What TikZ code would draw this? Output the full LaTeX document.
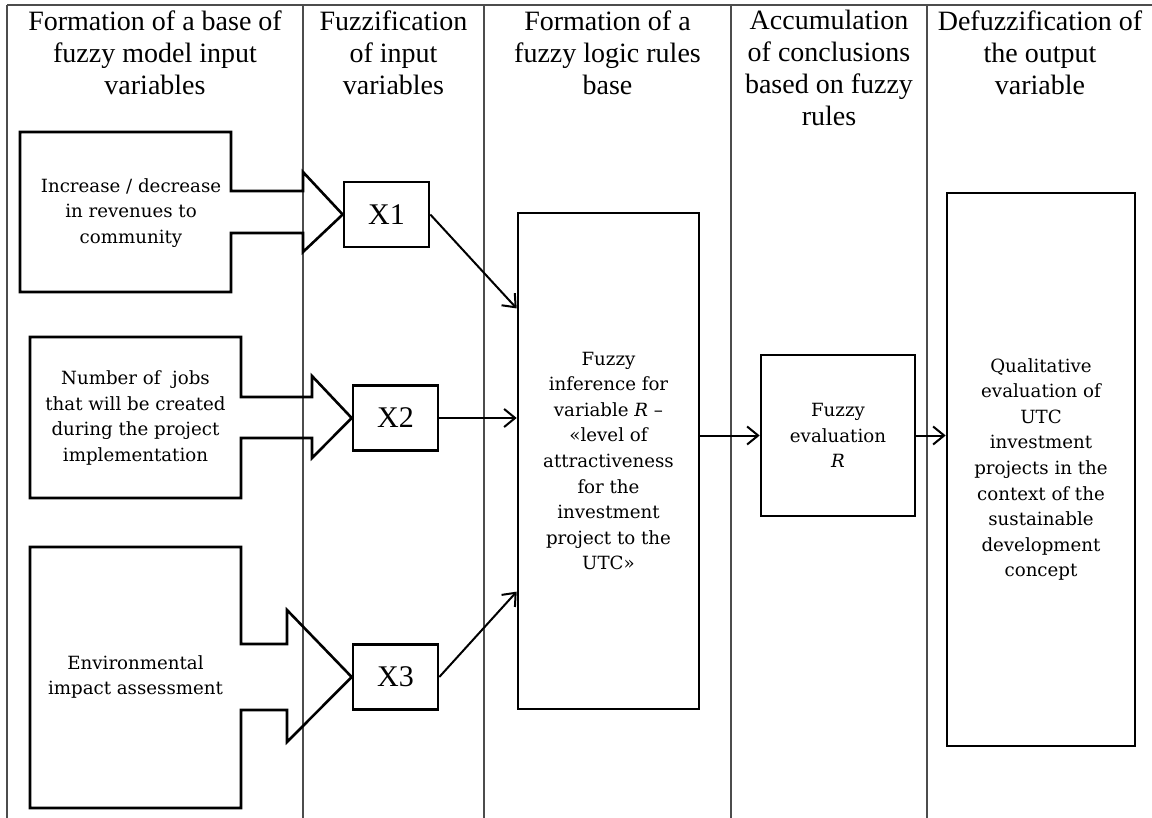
\documentclass[tikz,border=0pt]{standalone}
\usepackage{fontspec}
\setmainfont{Liberation Serif}
\newfontfamily\bodyfont{DejaVu Serif}
\usepackage{tikz}
\usetikzlibrary{calc,arrows.meta}
\newcommand{\clrline}{black!70}
\newcommand{\clrbox}{black}

\begin{document}
\begin{tikzpicture}[x=0.5pt, y=-0.5pt,
    colln/.style = {line width=0.9pt, \clrline},
    boxln/.style = {line width=1.3pt, \clrbox},
    head/.style = {anchor=north, align=center, inner sep=0pt, font=\fontsize{14}{16}\selectfont},
    txt/.style = {align=center, inner sep=0pt, font=\bodyfont\fontsize{9.1}{12.8}\selectfont},
    xbox/.style = {draw, line width=1.3pt, minimum width=42.5pt, minimum height=32.5pt, inner sep=0pt, font=\fontsize{15}{18}\selectfont},
    rbox/.style = {draw, line width=1.3pt, align=center, inner sep=0pt, font=\bodyfont\fontsize{9.1}{12.8}\selectfont},
    arr/.style = {line width=1pt, -{Straight Barb[length=5.5pt, width=9pt]}}]
    \useasboundingbox (0,0) rectangle (1152,818);

    % table
    \draw[colln] (7,5) -- (1152,5);
    \foreach \cx in {7,303,484,731,927} {
        \draw[colln] (\cx,5) -- (\cx,818);
    }
    \foreach \cx/\txt [count=\i] in {155/{Formation of a base of\\fuzzy model input\\variables},
        393.5/{Fuzzification\\of input\\variables},
        607.5/{Formation of a\\fuzzy logic rules\\base},
        829/{Accumulation\\of conclusions\\based on fuzzy\\rules},
        1040/{Defuzzification of\\the output\\variable}} {
        \node[head] (hd\i) at (\cx,10) {\txt};
    }

    % input variables
    \node[xbox] (x1) at (386.5,214.5) {X1};
    \node[xbox] (x2) at (395.5,418) {X2};
    \node[xbox] (x3) at (395.5,677) {X3};

    \draw[boxln] (20,132) -| (231,191) -- (303,191) -- (303,172) -- (x1.west) -- (303,252) -- (303,233) -- (231,233) |- (20,292) -- cycle;
    \draw[boxln] (30,337) -| (241,397) -- (312,397) -- (312,376) -- (x2.west) -- (312,458) -- (312,438) -- (241,438) |- (30,498) -- cycle;
    \draw[boxln] (30,547) -| (241,644) -- (287,644) -- (287,610) -- (x3.west) -- (287,742) -- (287,710) -- (241,710) |- (30,808) -- cycle;

    \node[txt] (in1) at (131,213) {Increase / decrease\\in revenues to\\community};
    \node[txt] (in2) at (135.5,418) {Number of~ jobs\\that will be created\\during the project\\implementation};
    \node[txt] (in3) at (135.5,677) {Environmental\\impact assessment};

    % rules, accumulation, output
    \node[rbox, minimum width=90.5pt, minimum height=248pt] (inf) at (608.5,461) {Fuzzy\\inference for\\variable \textit{R} –\\«level of\\attractiveness\\for the\\investment\\project to the\\UTC»};
    \node[rbox, minimum width=77pt, minimum height=80.5pt] (feval) at (838,435.5) {Fuzzy\\evaluation\\\textit{R}};
    \node[rbox, minimum width=94pt, minimum height=276.5pt] (out) at (1041,469.5) {Qualitative\\evaluation of\\UTC\\investment\\projects in the\\context of the\\sustainable\\development\\concept};

    \draw[arr] (x1.east) -- ($(inf.north west)!0.194!(inf.south west)$);
    \draw[arr] (x2.east) -- (x2.east -| inf.west);
    \draw[arr] (x3.east) -- ($(inf.north west)!0.762!(inf.south west)$);
    \draw[arr] (feval.west -| inf.east) -- (feval.west);
    \draw[arr] (feval.east) -- (feval.east -| out.west);

\end{tikzpicture}
\end{document}
